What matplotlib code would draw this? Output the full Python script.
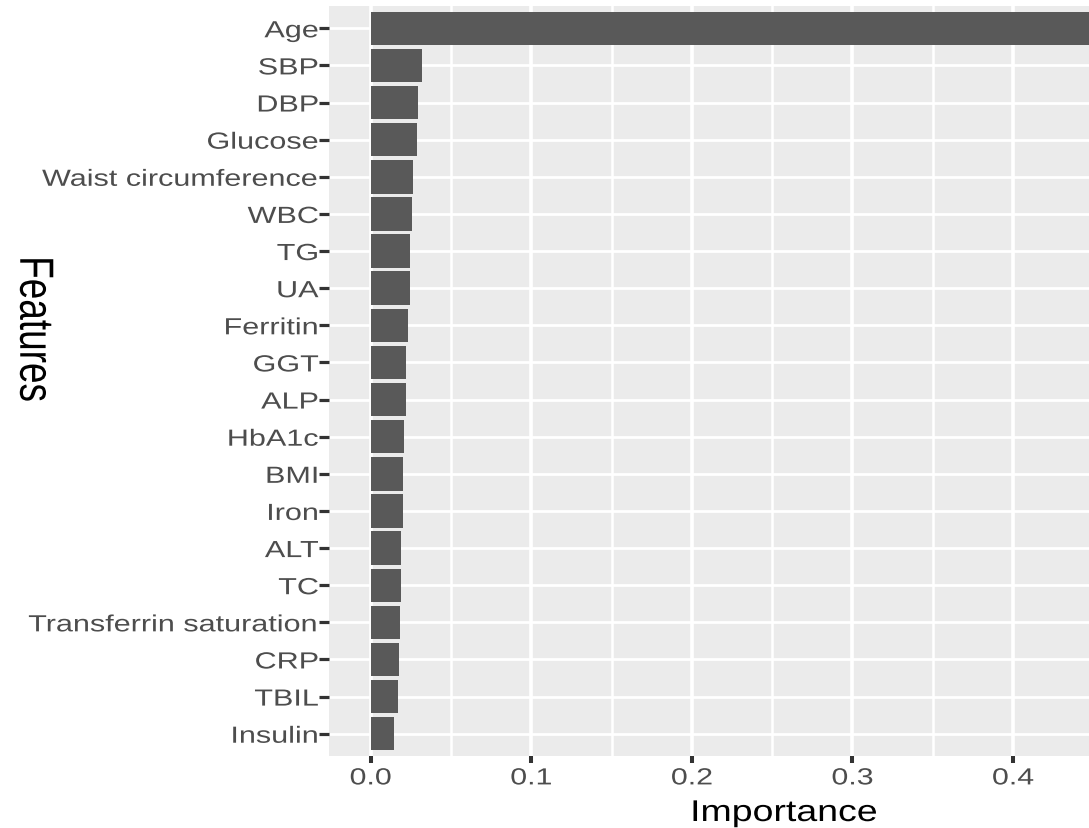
import matplotlib
matplotlib.use("Agg")
import matplotlib.pyplot as plt
import numpy as np
from matplotlib.patheffects import AbstractPathEffect
from matplotlib.transforms import Affine2D
from matplotlib.ticker import MultipleLocator, FormatStrFormatter

# data (top to bottom as shown)
features = ['Age', 'SBP', 'DBP', 'Glucose', 'Waist circumference', 'WBC', 'TG', 'UA',
            'Ferritin', 'GGT', 'ALP', 'HbA1c', 'BMI', 'Iron', 'ALT', 'TC',
            'Transferrin saturation', 'CRP', 'TBIL', 'Insulin']
importance = [0.520, 0.032, 0.0295, 0.0286, 0.0263, 0.0257, 0.0247, 0.0247,
              0.0230, 0.0222, 0.0218, 0.0205, 0.0199, 0.0199, 0.0190, 0.0187,
              0.0182, 0.0176, 0.0168, 0.0145]
x_ticks = [0.0, 0.1, 0.2, 0.3, 0.4]


class Stretch(AbstractPathEffect):
    """Widen text horizontally (the reference image is stretched)"""
    def __init__(self, sx=1.3, anchor='center'):
        super().__init__()
        self.sx = sx
        self.anchor = anchor

    def draw_path(self, renderer, gc, tpath, affine, rgbFace=None):
        ext = tpath.get_extents(affine)
        if self.anchor == 'right':
            x0 = ext.x1
        elif self.anchor == 'left':
            x0 = ext.x0
        else:
            x0 = (ext.x0 + ext.x1) / 2
        aff = affine + Affine2D().translate(-x0, 0).scale(self.sx, 1).translate(x0, 0)
        renderer.draw_path(gc, tpath, aff, rgbFace)


plt.rcParams['font.family'] = ['Liberation Sans', 'DejaVu Sans']

W, H = 1089, 829
fig = plt.figure(figsize=(W / 100, H / 100), dpi=100)
# panel in pixels: left 329, right 1089 (cropped), top 7, bottom 757
ax = fig.add_axes([329 / W, (H - 757) / H, (W - 329) / W, 750 / H])
ax.set_facecolor('#EBEBEB')

n = len(features)
ypos = np.arange(n)[::-1]
ax.barh(ypos, importance, height=0.9, color='#595959', zorder=3)

ax.set_xlim(-0.026, 0.4473)
ax.set_ylim(-0.6, n - 1 + 0.6)

ax.set_yticks(ypos)
ax.set_yticklabels(features)
ax.set_xticks(x_ticks)
ax.xaxis.set_major_formatter(FormatStrFormatter('%.1f'))
ax.xaxis.set_minor_locator(MultipleLocator(0.05))

ax.grid(True, which='major', axis='x', color='white', linewidth=2.6, zorder=0)
ax.grid(True, which='minor', axis='x', color='white', linewidth=1.8, zorder=0)
ax.grid(True, which='major', axis='y', color='white', linewidth=2.0, zorder=0)
ax.set_axisbelow(True)

for s in ax.spines.values():
    s.set_visible(False)

ax.tick_params(axis='y', which='major', length=7.2, width=2.3, color='#333333',
               labelsize=16.8, labelcolor='#4D4D4D', pad=0.3)
ax.tick_params(axis='x', which='major', length=5, width=2.9, color='#333333',
               labelsize=16.8, labelcolor='#4D4D4D', pad=2.5)
ax.tick_params(axis='x', which='minor', length=0)

for lbl in ax.get_yticklabels():
    lbl.set_path_effects([Stretch(1.31, 'right')])
for lbl in ax.get_xticklabels():
    lbl.set_path_effects([Stretch(1.3, 'center')])

ax.set_xlabel('Importance', fontsize=21.6, color='black', va='baseline')
ax.xaxis.set_label_coords((784 - 329) / 760, (757 - 822) / 750)
ax.xaxis.label.set_path_effects([Stretch(1.25, 'center')])

ax.set_ylabel('Features', fontsize=26.6, color='black', rotation=270,
              ha='center', va='center')
ax.yaxis.set_label_coords((33.5 - 329) / 760, (757 - 330) / 750)
ax.yaxis.label.set_path_effects([Stretch(1.3, 'center')])

fig.savefig('out.png', dpi=100)
